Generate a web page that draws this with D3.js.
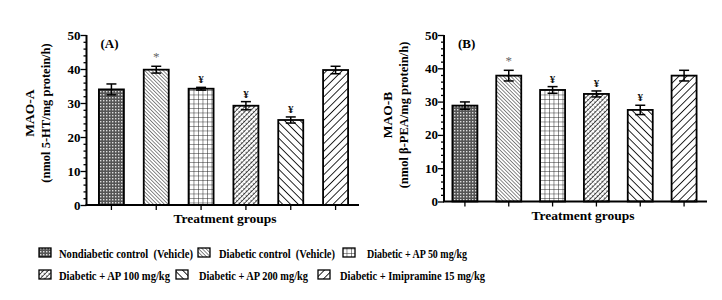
<!DOCTYPE html>
<html>
<head>
<meta charset="utf-8">
<script src="https://cdn.jsdelivr.net/npm/d3@7"></script>
<style>
  body { margin: 0; background: #fff; }
  svg { display: block; font-family: "Liberation Serif", "Times New Roman", serif; font-weight: bold; }
</style>
</head>
<body>
<div id="chart"></div>
<script>
// Data
const groups = [
  "Nondiabetic control  (Vehicle)",
  "Diabetic control  (Vehicle)",
  "Diabetic + AP 50 mg/kg",
  "Diabetic + AP 100 mg/kg",
  "Diabetic + AP 200 mg/kg",
  "Diabetic + Imipramine 15 mg/kg"
];
const maoA = [34.0, 39.8, 34.2, 29.2, 25.0, 39.7];
const maoAErr = [1.6, 1.0, 0.4, 1.2, 0.9, 1.1];
const maoB = [28.8, 37.8, 33.5, 32.3, 27.5, 37.8];
const maoBErr = [1.1, 1.6, 1.0, 0.9, 1.4, 1.6];
const marksA = ["", "*", "¥", "¥", "¥", ""];
const marksB = ["", "*", "¥", "¥", "¥", ""];
const yTicks = [0, 10, 20, 30, 40, 50];

const svg = d3.select("#chart").append("svg")
  .attr("width", 722).attr("height", 300);

// hatch patterns, one per group
const defs = svg.append("defs");

let p = defs.append("pattern").attr("id", "pat0").attr("patternUnits", "userSpaceOnUse")
  .attr("width", 3).attr("height", 3);
p.append("rect").attr("width", 3).attr("height", 3).attr("fill", "#555");
p.append("rect").attr("x", 1).attr("y", 1).attr("width", 1.4).attr("height", 1.4).attr("fill", "#ddd");

function lines(id, gap, sw, angle) {
  const q = defs.append("pattern").attr("id", id).attr("patternUnits", "userSpaceOnUse")
    .attr("width", gap).attr("height", gap)
    .attr("patternTransform", "rotate(" + angle + ")");
  q.append("rect").attr("width", gap).attr("height", gap).attr("fill", "#fff");
  q.append("line").attr("x1", 0).attr("y1", 0).attr("x2", 0).attr("y2", gap)
    .attr("stroke", "#111").attr("stroke-width", sw);
  return q;
}
lines("pat1", 2.6, 1, -45);

p = defs.append("pattern").attr("id", "pat2").attr("patternUnits", "userSpaceOnUse")
  .attr("width", 4.5).attr("height", 4.5);
p.append("rect").attr("width", 4.5).attr("height", 4.5).attr("fill", "#fff");
p.append("path").attr("d", "M0,0H4.5M0,0V4.5").attr("stroke", "#222").attr("stroke-width", 1);

p = lines("pat3", 3.4, 1.3, 45);
p.append("line").attr("x1", 0).attr("y1", 1.7).attr("x2", 3.4).attr("y2", 1.7)
  .attr("stroke", "#111").attr("stroke-width", 0.7).attr("stroke-dasharray", "1,1.4");

lines("pat4", 5.5, 1.8, -45);
lines("pat5", 5.5, 1.8, 45);

function drawPanel(cfg) {
  const x = d3.scaleBand().domain(groups).range(cfg.xr).paddingInner(0.44).paddingOuter(0.22);
  const y = d3.scaleLinear().domain([0, 50]).range(cfg.yr);
  const g = svg.append("g");

  // bars
  g.selectAll(".bar").data(cfg.values).join("rect")
    .attr("x", (d, i) => x(groups[i]) + x.bandwidth() / 2 - 12.5)
    .attr("y", d => y(d))
    .attr("width", 25)
    .attr("height", d => y(0) - y(d))
    .attr("fill", (d, i) => "url(#pat" + i + ")")
    .attr("stroke", "#000").attr("stroke-width", 1.8);

  // error bars
  const eb = g.selectAll(".err").data(cfg.values).join("g")
    .attr("transform", (d, i) => "translate(" + (x(groups[i]) + x.bandwidth() / 2) + ",0)");
  eb.append("line")
    .attr("y1", (d, i) => y(d + cfg.err[i])).attr("y2", (d, i) => y(d - cfg.err[i]))
    .attr("stroke", "#000").attr("stroke-width", 1.5);
  eb.append("line").attr("x1", -5).attr("x2", 5)
    .attr("y1", (d, i) => y(d + cfg.err[i])).attr("y2", (d, i) => y(d + cfg.err[i]))
    .attr("stroke", "#000").attr("stroke-width", 1.5);
  eb.append("line").attr("x1", -5).attr("x2", 5)
    .attr("y1", (d, i) => y(d - cfg.err[i])).attr("y2", (d, i) => y(d - cfg.err[i]))
    .attr("stroke", "#000").attr("stroke-width", 1.5);

  // significance marks
  eb.append("text")
    .attr("text-anchor", "middle")
    .attr("y", (d, i) => y(d + cfg.err[i]) - (cfg.marks[i] === "*" ? 5 : 4))
    .attr("font-size", (d, i) => cfg.marks[i] === "*" ? 13 : 11)
    .attr("font-weight", (d, i) => cfg.marks[i] === "*" ? "normal" : "bold")
    .attr("fill", (d, i) => cfg.marks[i] === "*" ? "#666" : "#111")
    .text((d, i) => cfg.marks[i]);

  // y axis with minor ticks
  const yAxis = g.append("g").attr("transform", "translate(" + cfg.ax + ",0)");
  yAxis.call(d3.axisLeft(y).tickValues(d3.range(0, 51, 2)).tickSize(3).tickFormat(""));
  yAxis.call(ax => ax.selectAll(".tick").filter(d => yTicks.includes(d)).select("line").attr("x2", -6));
  yAxis.selectAll(".tick text").remove();
  yAxis.selectAll(".tick line").attr("stroke-width", 1.3);
  yAxis.select(".domain").attr("stroke-width", 2).attr("d", "M0," + y(0) + "V" + y(50));
  g.selectAll(".ylab").data(yTicks).join("text")
    .attr("x", cfg.ax - 6).attr("y", d => y(d) + 4.5)
    .attr("text-anchor", "end").attr("font-size", 13)
    .text(d => d);

  // x axis
  const xAxis = g.append("g").attr("transform", "translate(0," + y(0) + ")");
  xAxis.call(d3.axisBottom(x).tickSize(5).tickFormat(""));
  xAxis.selectAll(".tick line").attr("stroke-width", 1.3);
  xAxis.select(".domain").attr("stroke-width", 2).attr("d", "M" + (cfg.ax - 1) + ",0H" + cfg.xEnd);

  g.append("text").attr("x", cfg.titleX).attr("y", cfg.titleY)
    .attr("text-anchor", "middle").attr("font-size", 13.5).text("Treatment groups");

  g.append("text").attr("x", cfg.ax + 14).attr("y", 48).attr("font-size", 13).text(cfg.label);

  // y title, two lines
  const yt = g.append("g").attr("transform", "translate(" + cfg.ytX + "," + cfg.ytY + ") rotate(-90)");
  yt.append("text").attr("text-anchor", "middle").attr("font-size", 13.5).text(cfg.yTitle);
  yt.append("text").attr("y", 16).attr("text-anchor", "middle").attr("font-size", 12.5).text(cfg.yUnit);
}

drawPanel({
  values: maoA, err: maoAErr, marks: marksA, label: "(A)",
  xr: [89, 358], yr: [205, 35], ax: 86.5, xEnd: 359,
  titleX: 225, titleY: 223, ytX: 34, ytY: 113,
  yTitle: "MAO-A", yUnit: "(nmol 5-HT/mg protein/h)"
});
drawPanel({
  values: maoB, err: maoBErr, marks: marksB, label: "(B)",
  xr: [443, 706], yr: [201.5, 35], ax: 444, xEnd: 707,
  titleX: 583, titleY: 220, ytX: 392, ytY: 115,
  yTitle: "MAO-B", yUnit: "(nmol \u03b2-PEA/mg protein/h)"
});

// legend layout: swatch x, row y, text x, text width
const legendLayout = [
  [39, 253, 59, 134], [198, 253, 219, 116], [343, 253, 367, 100],
  [39, 275, 59, 111], [176, 275, 199, 109], [318, 275, 340, 145]
];
const lg = svg.append("g").selectAll("g").data(groups).join("g")
  .attr("transform", (d, i) => "translate(0," + legendLayout[i][1] + ")");
lg.append("rect").attr("x", (d, i) => legendLayout[i][0]).attr("y", -5)
  .attr("width", 12).attr("height", 9)
  .attr("fill", (d, i) => "url(#pat" + i + ")")
  .attr("stroke", "#000").attr("stroke-width", 1.3);
lg.append("text").attr("x", (d, i) => legendLayout[i][2]).attr("y", 5)
  .attr("font-size", 13.5)
  .style("white-space", "pre")
  .attr("textLength", (d, i) => legendLayout[i][3])
  .attr("lengthAdjust", "spacingAndGlyphs")
  .text(d => d);
</script>
</body>
</html>
